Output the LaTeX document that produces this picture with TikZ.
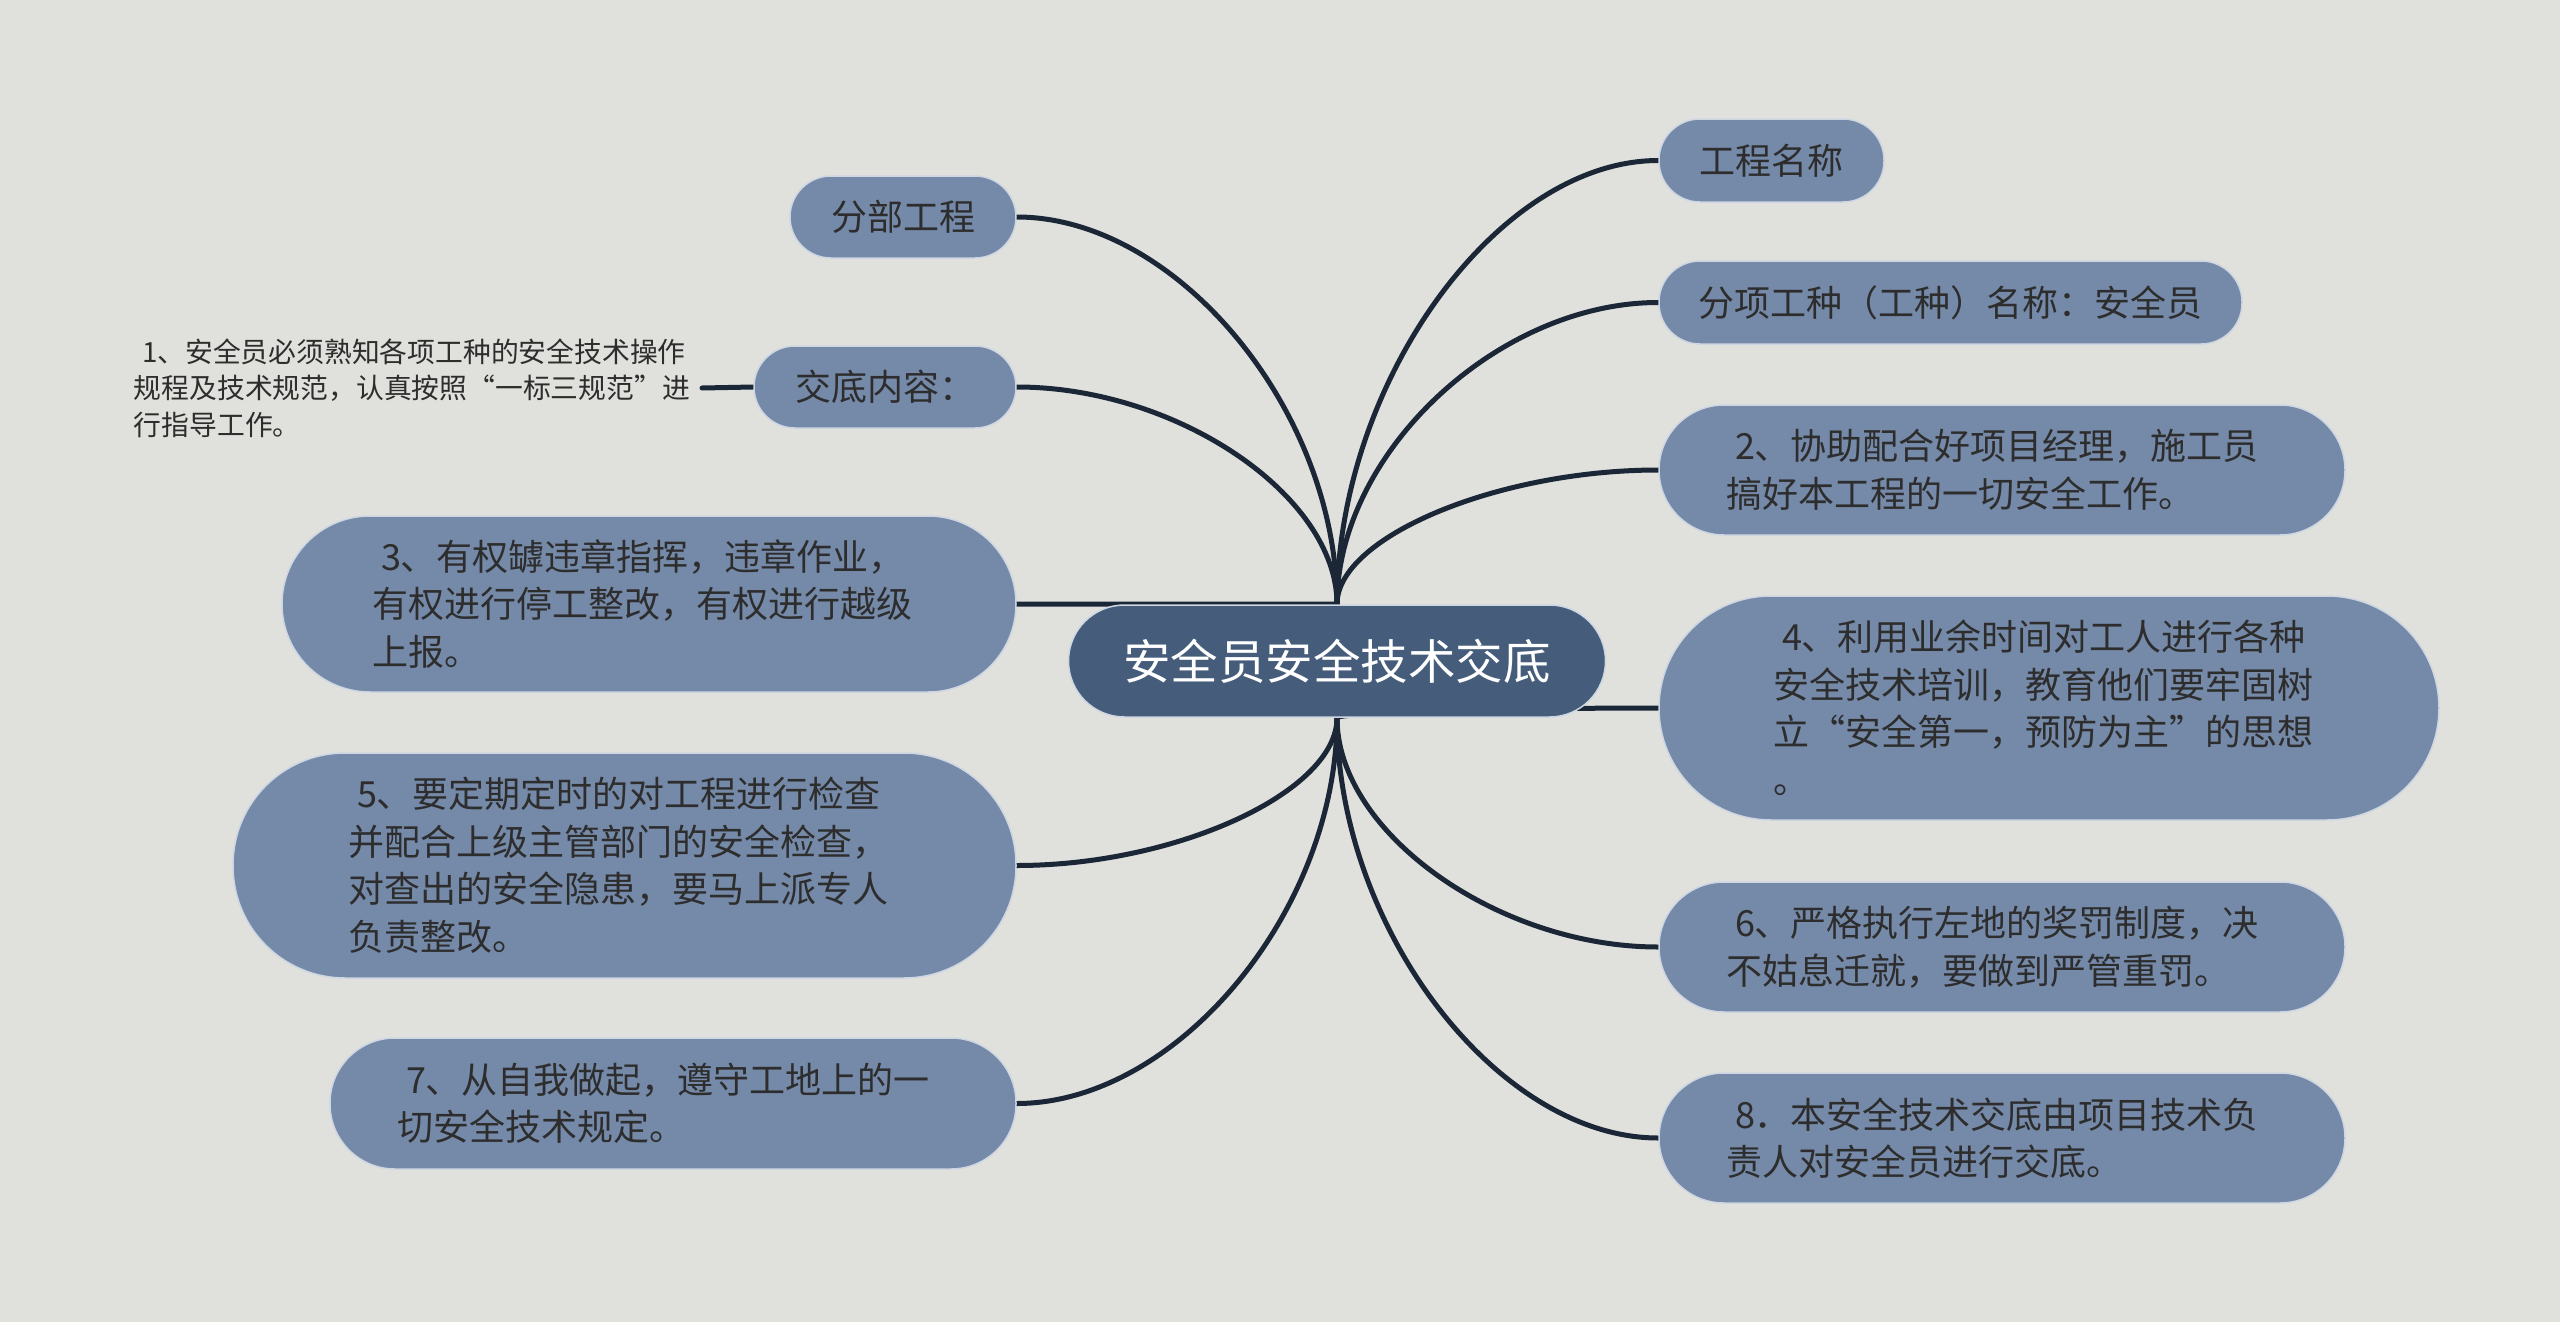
\documentclass[tikz,border=0pt]{standalone}
\usepackage{fontspec}
\setmainfont{Noto Sans CJK SC}
\usetikzlibrary{calc}
\definecolor{bgc}{RGB}{224,225,220}
\definecolor{leaf}{RGB}{117,137,168}
\definecolor{rootc}{RGB}{69,92,122}
\definecolor{ink}{RGB}{45,45,45}
\definecolor{wire}{RGB}{27,38,55}
\definecolor{rim}{RGB}{205,214,226}
\pgfdeclarelayer{back}
\pgfdeclarelayer{links}
\pgfsetlayers{back,links,main}
\tikzset{
  leafbox/.style={fill=leaf, draw=rim, line width=1.5pt, text=ink,
    font=\fontsize{36}{47.5}\selectfont, align=left, inner sep=0pt},
  rootbox/.style={fill=rootc, draw=rim, line width=1.5pt, text=white,
    font=\fontsize{47.5}{56}\selectfont, inner sep=0pt},
  notetext/.style={text=ink, font=\fontsize{27.8}{36.5}\selectfont, align=left,
    inner xsep=12pt, inner ysep=0pt},
  link/.style={draw=wire, line width=5pt, line cap=round},
  branch/.style={to path={.. controls ($(\tikztostart)!0.5!(\tikztostart|-\tikztotarget)$)
      and ($(\tikztotarget)!0.5!(\tikztostart|-\tikztotarget)$) .. (\tikztotarget)}}
}
\begin{document}
\begin{tikzpicture}[x=1pt,y=-1pt]
\begin{pgfonlayer}{back}
\fill[bgc] (0,0) rectangle (2560,1322);
\end{pgfonlayer}
\useasboundingbox (0,0) rectangle (2560,1322);

% root
\node[rootbox, minimum width=537pt, minimum height=112pt, rounded corners=56pt] (root) at (1337,661) {安全员安全技术交底};

% left side
\node[leafbox, minimum width=226pt, minimum height=82pt, rounded corners=41pt] (fb) at (903,217) {分部工程};
\node[leafbox, minimum width=262pt, minimum height=82pt, rounded corners=41pt] (jd) at (885,387) {交底内容：};
\node[notetext, anchor=east] (t1) at (702,388) {\hspace*{0.3em}1、安全员必须熟知各项工种的安全技术操作\\规程及技术规范，认真按照“一标三规范”进\\行指导工作。};
\node[leafbox, minimum width=734pt, minimum height=176pt, rounded corners=88pt, text width=554pt] (n3) at (649,604) {\hspace*{0.25em}3、有权罅违章指挥，违章作业，\\有权进行停工整改，有权进行越级\\上报。};
\node[leafbox, minimum width=783pt, minimum height=225pt, rounded corners=112pt, text width=553pt] (n5) at (624.5,865.5) {\hspace*{0.25em}5、要定期定时的对工程进行检查\\并配合上级主管部门的安全检查，\\对查出的安全隐患，要马上派专人\\负责整改。};
\node[leafbox, minimum width=686pt, minimum height=131pt, rounded corners=65pt, text width=552pt] (n7) at (673,1103.5) {\hspace*{0.25em}7、从自我做起，遵守工地上的一\\切安全技术规定。};

% right side
\node[leafbox, minimum width=225pt, minimum height=83pt, rounded corners=41pt] (gc) at (1771.5,160.5) {工程名称};
\node[leafbox, minimum width=583pt, minimum height=83pt, rounded corners=41pt] (fx) at (1950.5,302.5) {分项工种（工种）名称：安全员};
\node[leafbox, minimum width=686pt, minimum height=130pt, rounded corners=65pt, text width=552pt] (n2) at (2002,470) {\hspace*{0.25em}2、协助配合好项目经理，施工员\\搞好本工程的一切安全工作。};
\node[leafbox, minimum width=780pt, minimum height=224pt, rounded corners=112pt, text width=552pt] (n4) at (2049,708) {\hspace*{0.25em}4、利用业余时间对工人进行各种\\安全技术培训，教育他们要牢固树\\立“安全第一，预防为主”的思想\\。};
\node[leafbox, minimum width=686pt, minimum height=130pt, rounded corners=65pt, text width=552pt] (n6) at (2002,947) {\hspace*{0.25em}6、严格执行左地的奖罚制度，决\\不姑息迁就，要做到严管重罚。};
\node[leafbox, minimum width=686pt, minimum height=130pt, rounded corners=65pt, text width=552pt] (n8) at (2002,1138) {\hspace*{0.25em}8．本安全技术交底由项目技术负\\责人对安全员进行交底。};

\begin{pgfonlayer}{links}
\draw[link] (root.north) to[branch] (fb.east);
\draw[link] (root.north) to[branch] (jd.east);
\draw[link] (root.north) to[branch] (n3.east);
\draw[link] (root.south) to[branch] (n5.east);
\draw[link] (root.south) to[branch] (n7.east);
\draw[link] (root.north) to[branch] (gc.west);
\draw[link] (root.north) to[branch] (fx.west);
\draw[link] (root.north) to[branch] (n2.west);
\draw[link] (root.south) to[branch] (n4.west);
\draw[link] (root.south) to[branch] (n6.west);
\draw[link] (root.south) to[branch] (n8.west);
\draw[link] (t1.east) -- (jd.west);
\end{pgfonlayer}
\end{tikzpicture}
\end{document}
